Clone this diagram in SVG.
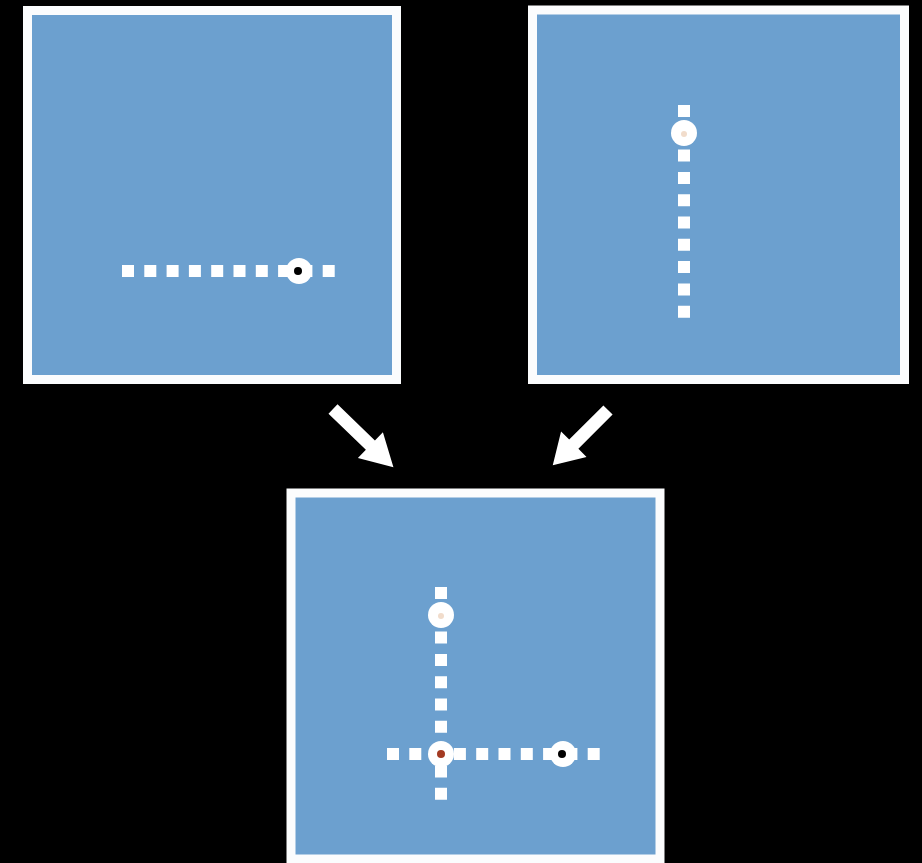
<svg xmlns="http://www.w3.org/2000/svg" width="922" height="863" viewBox="0 0 922 863">
  <style>
    .panel { fill: #6ca0cf; stroke: #fbfcfd; stroke-width: 9; }
    .dots { fill: none; stroke: #ffffff; stroke-width: 12; stroke-dasharray: 12 10.3; }
    .ring { fill: #ffffff; }
    .arrow { fill: #ffffff; }
  </style>
  <defs>
    <!-- white block arrow pointing along +x, origin at the tail -->
    <polygon id="arrowShape" points="0,-6.5 52,-6.5 52,-18 84,0 52,18 52,6.5 0,6.5"/>
  </defs>
  <rect width="922" height="863" fill="#000000"/>

  <!-- top-left: horizontal scan line -->
  <g id="panel-horizontal">
    <rect class="panel" x="27.5" y="10.5" width="369" height="369"/>
    <line class="dots" x1="122" y1="271" x2="337" y2="271"/>
    <circle class="ring" cx="299" cy="271" r="13"/>
    <circle cx="298" cy="271" r="4" fill="#000000"/>
  </g>

  <!-- top-right: vertical scan line -->
  <g id="panel-vertical">
    <rect class="panel" x="532.5" y="10" width="372" height="369.5"/>
    <line class="dots" x1="684" y1="105" x2="684" y2="320"/>
    <circle class="ring" cx="684" cy="133" r="13" fill="#fbf8f3"/>
    <circle cx="684" cy="134" r="3" fill="#f1dccb"/>
  </g>

  <!-- bottom: both lines combined -->
  <g id="panel-combined">
    <rect class="panel" x="291" y="493" width="369" height="366"/>
    <line class="dots" x1="441" y1="587" x2="441" y2="802"/>
    <line class="dots" x1="387" y1="754" x2="602" y2="754"/>
    <circle class="ring" cx="441" cy="615" r="13" fill="#fbf8f3"/>
    <circle cx="441" cy="616" r="3" fill="#f1dccb"/>
    <circle class="ring" cx="441" cy="754" r="13"/>
    <circle cx="441" cy="754" r="4" fill="#a33a22"/>
    <circle class="ring" cx="563" cy="754" r="13"/>
    <circle cx="562" cy="754" r="4" fill="#000000"/>
  </g>

  <g id="connectors">
    <use href="#arrowShape" class="arrow" transform="translate(333 409) rotate(44)"/>
    <use href="#arrowShape" class="arrow" transform="translate(608 410) rotate(135) scale(0.93 1)"/>
  </g>
</svg>
